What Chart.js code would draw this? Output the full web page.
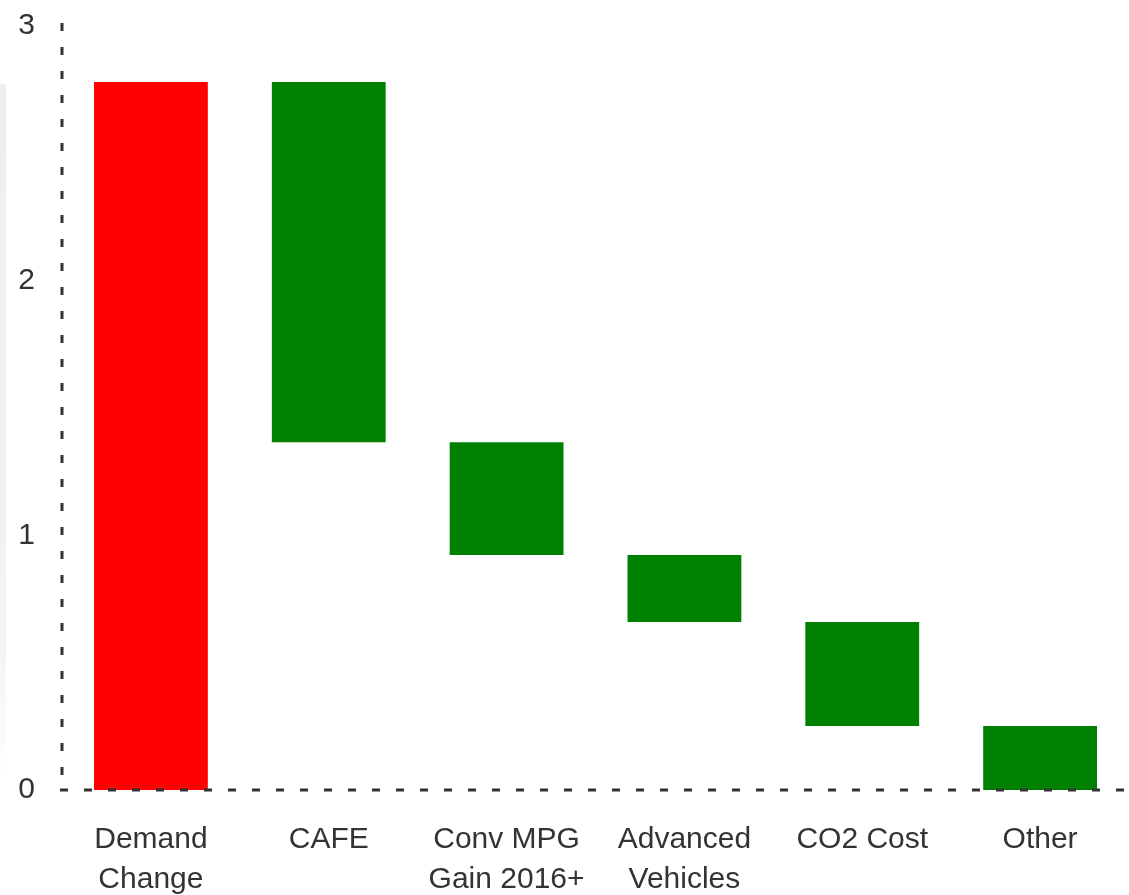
<!DOCTYPE html>
<html>
<head>
<meta charset="utf-8">
<script src="https://cdn.jsdelivr.net/npm/chart.js@4/dist/chart.umd.min.js"></script>
<style>
  html, body { margin: 0; padding: 0; background: #fff; }
</style>
</head>
<body>
<canvas id="chart1" width="1129" height="895"></canvas>
<script>
const labels1 = [['Demand', 'Change'], 'CAFE', ['Conv MPG', 'Gain 2016+'], ['Advanced', 'Vehicles'], 'CO2 Cost', 'Other'];
const barLows = [0, 1.366, 0.923, 0.66, 0.251, 0];
const barHighs = [2.78, 2.78, 1.366, 0.923, 0.66, 0.251];
const barColors = ['#ff0000', '#008000', '#008000', '#008000', '#008000', '#008000'];
const yTicks = [0, 1, 2, 3];

// faint grey strip along the left edge
const edgeShade = {
  id: 'edgeShade',
  beforeDraw(chart) {
    const ctx = chart.ctx;
    const g = ctx.createLinearGradient(0, 84, 0, 780);
    g.addColorStop(0, '#eeeeee');
    g.addColorStop(0.8, '#f3f3f3');
    g.addColorStop(1, '#ffffff');
    ctx.save();
    ctx.fillStyle = g;
    ctx.fillRect(0, 84, 6, 696);
    ctx.restore();
  }
};

// dotted axis lines, drawn over the bars
const dottedAxes = {
  id: 'dottedAxes',
  afterDatasetsDraw(chart) {
    const { ctx, chartArea: a } = chart;
    const y0 = chart.scales.y.getPixelForValue(0);
    ctx.save();
    ctx.strokeStyle = '#333';
    ctx.lineWidth = 3;
    ctx.setLineDash([8, 16]);
    ctx.beginPath();
    ctx.moveTo(a.left, a.top - 3);
    ctx.lineTo(a.left, y0);
    ctx.stroke();
    ctx.beginPath();
    ctx.moveTo(a.left - 2, y0);
    ctx.lineTo(a.right, y0);
    ctx.stroke();
    ctx.restore();
  }
};

const data1 = {
  labels: labels1,
  datasets: [{
    data: barLows.map((lo, i) => [lo, barHighs[i]]),
    backgroundColor: barColors,
    borderWidth: 0,
    barPercentage: 0.64,
    categoryPercentage: 1.0
  }]
};

const config1 = {
  type: 'bar',
  data: data1,
  options: {
    responsive: false,
    animation: false,
    layout: { padding: { top: 26, right: 0, left: 0, bottom: 0 } },
    plugins: {
      legend: { display: false },
      tooltip: { enabled: false }
    },
    scales: {
      x: {
        grid: { display: false, drawTicks: false },
        border: { display: false },
        ticks: {
          color: '#333',
          padding: 29,
          maxRotation: 0,
          autoSkip: false,
          font: { family: '"Liberation Sans", Arial, sans-serif', size: 30, lineHeight: 1.35 }
        },
        afterFit: (s) => { s.height = 105; s.paddingLeft = 0; s.paddingRight = 0; }
      },
      y: {
        min: 0,
        max: 3,
        grid: { display: false, drawTicks: false },
        border: { display: false },
        afterBuildTicks: (s) => { s.ticks = yTicks.map(v => ({ value: v })); },
        ticks: {
          color: '#333',
          padding: 27,
          font: { family: '"Liberation Sans", Arial, sans-serif', size: 30 }
        },
        afterFit: (s) => { s.width = 62; s.paddingTop = 0; s.paddingBottom = 0; }
      }
    }
  },
  plugins: [edgeShade, dottedAxes]
};

const chart1 = new Chart(document.getElementById('chart1'), config1);
</script>
</body>
</html>
